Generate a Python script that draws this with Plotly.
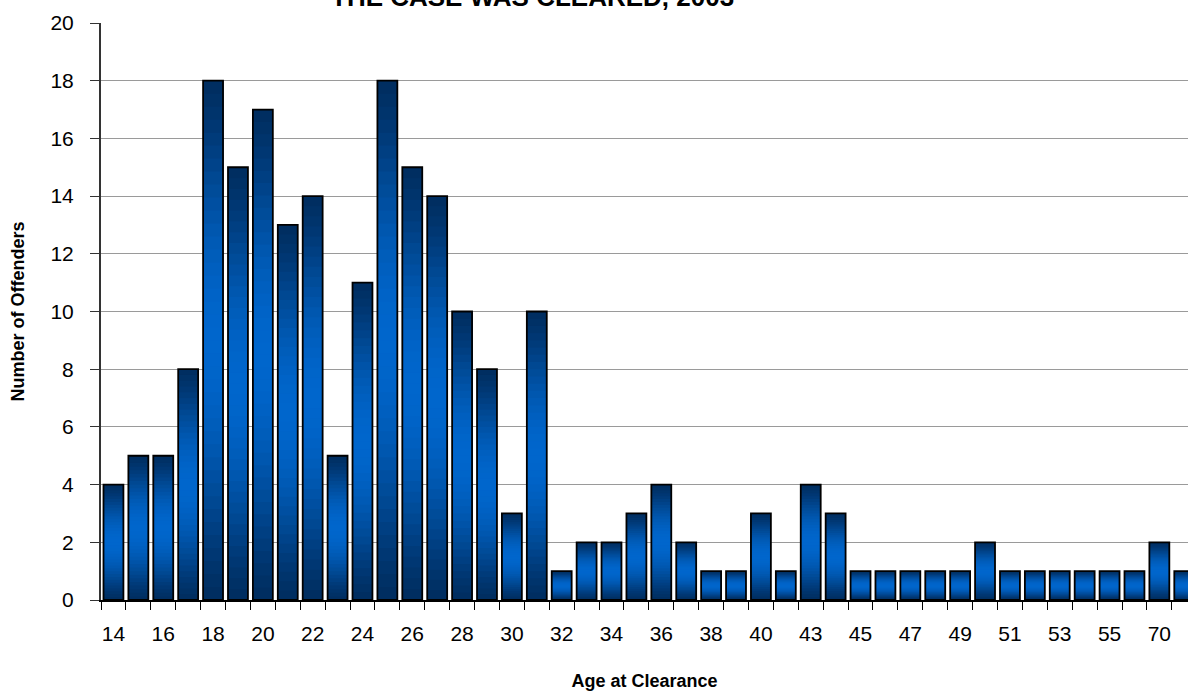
import math
import plotly.graph_objects as go

# ---- data ----
ages = ["14", "15", "16", "17", "18", "19", "20", "21", "22", "23", "24", "25", "26", "27",
        "28", "29", "30", "31", "32", "33", "34", "35", "36", "37", "38", "39", "40", "41",
        "43", "44", "45", "46", "47", "48", "49", "50", "51", "52", "53", "54", "55", "57",
        "70", "72"]
offenders = [4, 5, 5, 8, 18, 15, 17, 13, 14, 5, 11, 18, 15, 14,
             10, 8, 3, 10, 1, 2, 2, 3, 4, 2, 1, 1, 3, 1,
             4, 3, 1, 1, 1, 1, 1, 2, 1, 1, 1, 1, 1, 1,
             2, 1]
labelled = ["14", "16", "18", "20", "22", "24", "26", "28", "30", "32", "34", "36", "38", "40",
            "43", "45", "47", "49", "51", "53", "55", "70"]
y_ticks = [0, 2, 4, 6, 8, 10, 12, 14, 16, 18, 20]

title_text = "THE CASE WAS CLEARED, 2003"
x_title = "Age at Clearance"
y_title = "Number of Offenders"

# ---- gradient helpers ----
DARK = (0, 45, 95)
BRIGHT = (0, 102, 204)
N_SEG = 40


def grad_color(t):
    # t: 0 bottom .. 1 top ; bright near the middle, dark at both ends
    c = 0.5
    if t <= c:
        w = math.sin((t / c) * math.pi / 2) ** 1.3
    else:
        w = math.sin(((1 - t) / (1 - c)) * math.pi / 2) ** 1.3
    r = [round(DARK[i] + (BRIGHT[i] - DARK[i]) * w) for i in range(3)]
    return f"rgb({r[0]},{r[1]},{r[2]})"


fig = go.Figure()
for k in range(N_SEG):
    bases = [v * k / N_SEG for v in offenders]
    heights = [v - b for v, b in zip(offenders, bases)]
    fig.add_trace(go.Bar(
        x=ages, y=heights, base=bases,
        marker=dict(color=grad_color((k + 0.5) / N_SEG), line=dict(width=0)),
        showlegend=False, hoverinfo="skip",
    ))
# outline
fig.add_trace(go.Bar(
    x=ages, y=offenders, base=[0] * len(offenders),
    marker=dict(color="rgba(0,0,0,0)", line=dict(color="#000000", width=1.8)),
    showlegend=False,
))

FONT = "Liberation Sans, Arial, sans-serif"
fig.update_layout(
    width=1188, height=692,
    margin=dict(l=101, r=0, t=23, b=92, autoexpand=False),
    paper_bgcolor="white", plot_bgcolor="white",
    barmode="overlay", bargap=0.2,
    font=dict(family=FONT, color="#000000"),
)
# chart title (its upper part lies above the visible area, as in the reference)
fig.add_annotation(
    text=f"<b>{title_text}</b>", xref="paper", yref="paper",
    x=0.397, y=1.045, xanchor="center", yanchor="middle",
    showarrow=False, font=dict(size=26, family=FONT, color="#000000"),
)
fig.update_xaxes(
    type="category", categoryorder="array", categoryarray=ages,
    range=[-0.5, 43.15], automargin=False,
    tickmode="array", tickvals=ages,
    ticktext=[a if a in labelled else "" for a in ages],
    tickangle=0,
    tickson="boundaries", ticks="outside", ticklen=8, tickcolor="#000000", tickwidth=1,
    ticklabelstandoff=14,
    tickfont=dict(size=21, family=FONT),
    showline=True, linecolor="#000000", linewidth=1.5,
    showgrid=False, zeroline=False,
    title=dict(text=f"<b>{x_title}</b>", font=dict(size=18, family=FONT), standoff=30),
)
fig.update_yaxes(
    range=[0, 20], tickmode="array", tickvals=y_ticks, automargin=False,
    ticks="outside", ticklen=9, tickcolor="#333333", tickwidth=1,
    ticklabelstandoff=12,
    tickfont=dict(size=21, family=FONT),
    showline=True, linecolor="#333333", linewidth=2,
    showgrid=True, gridcolor="#9a9a9a", gridwidth=1.2, zeroline=False,
    title=dict(text=f"<b>{y_title}</b>", font=dict(size=18, family=FONT), standoff=21),
)

fig.write_html("out.html", config={"displayModeBar": False},
               post_script="document.body.style.margin='0';")
